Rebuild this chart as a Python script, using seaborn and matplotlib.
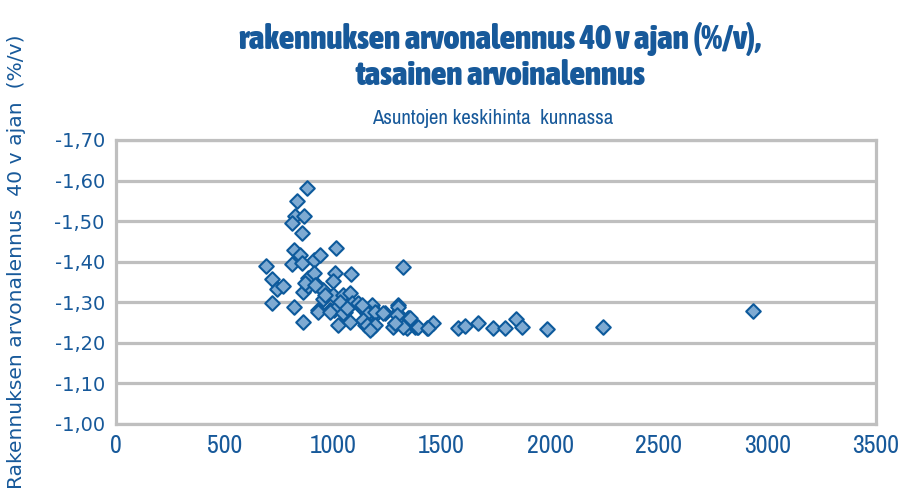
import matplotlib
matplotlib.use('Agg')
import matplotlib.pyplot as plt
import seaborn as sns
import pandas as pd
from matplotlib import font_manager
from matplotlib.ticker import FuncFormatter, MultipleLocator

# asuntojen keskihinta kunnassa (x) ja rakennuksen arvonalennus (y)
hinta = [691, 718, 742, 769, 718, 811, 820, 848, 857, 912, 940, 1013,
         880, 834, 824, 866, 811, 857,
         884, 912, 1009, 1000, 861, 884, 926, 953,
         820, 930, 953, 986, 861, 1023, 1036,
         1322, 1082, 1000, 1046, 1078, 1032, 1087, 1124, 1179, 1299, 1004,
         1055, 1170, 1202, 1239, 1294, 1345, 1078, 1147, 1179, 1276, 1340, 1377,
         1299, 1350, 1285, 1322, 1386, 1432, 1460, 1575, 1608, 1667, 1737,
         1792, 1842, 1870, 1985, 2243, 2934,
         870, 917, 963, 930, 986, 1115, 1046, 1156, 1170, 1138, 1064,
         1133, 1193, 1230, 1294, 1354, 1285, 1391, 1437, 1156, 1193, 1170]
alennus = [-1.390, -1.357, -1.333, -1.340, -1.298, -1.394, -1.429, -1.417, -1.397, -1.404, -1.417, -1.434,
           -1.582, -1.550, -1.513, -1.513, -1.495, -1.470,
           -1.360, -1.372, -1.372, -1.352, -1.325, -1.340, -1.343, -1.330,
           -1.288, -1.281, -1.308, -1.281, -1.251, -1.244, -1.300,
           -1.387, -1.370, -1.318, -1.318, -1.323, -1.301, -1.298, -1.290, -1.293, -1.293, -1.281,
           -1.276, -1.274, -1.274, -1.274, -1.274, -1.261, -1.251, -1.244, -1.237, -1.239, -1.237, -1.240,
           -1.288, -1.261, -1.249, -1.239, -1.239, -1.237, -1.249, -1.237, -1.242, -1.249, -1.237,
           -1.237, -1.259, -1.239, -1.234, -1.239, -1.279,
           -1.347, -1.343, -1.318, -1.276, -1.276, -1.298, -1.274, -1.274, -1.239, -1.256, -1.286,
           -1.293, -1.276, -1.274, -1.269, -1.261, -1.249, -1.239, -1.237, -1.244, -1.244, -1.232]

df = pd.DataFrame({'hinta': hinta, 'alennus': alennus})


def find_narrow(bold):
    # look for any condensed / narrow face that is installed
    best = None
    for f in font_manager.fontManager.ttflist:
        nm = f.name.lower()
        st = str(f.stretch).lower()
        is_narrow = ('narrow' in nm or 'condensed' in nm or 'condensed' in st
                     or (isinstance(f.stretch, int) and f.stretch < 500))
        if not is_narrow or 'mono' in nm or 'serif' in nm and 'sans' not in nm:
            continue
        if f.style != 'normal':
            continue
        w = f.weight if isinstance(f.weight, int) else (700 if 'bold' in str(f.weight) else 400)
        if (w >= 600) != bold:
            continue
        best = f.fname
        if 'dejavu' not in nm:
            break
    return best


nb = find_narrow(True)
nr = find_narrow(False)
if nb:
    title_fp = font_manager.FontProperties(fname=nb)
else:
    title_fp = font_manager.FontProperties(family='Roboto', weight='bold')
if nr:
    small_fp = font_manager.FontProperties(fname=nr)
else:
    small_fp = font_manager.FontProperties(family='Roboto')

sns.set_style('white')
plt.rcParams['font.family'] = ['DejaVu Sans']

blue_text = '#17599a'
grid_c = '#bfbfbf'

fig = plt.figure(figsize=(9.11, 4.98), dpi=100)
ax = fig.add_axes([0.1273, 0.1486, 0.8343, 0.5703])

sns.scatterplot(data=df, x='hinta', y='alennus', marker='D', s=55,
                color='#7eaad2', edgecolor='#0d5a9c', linewidth=1.5,
                ax=ax, zorder=3)

ax.set_xlim(0, 3500)
ax.set_ylim(-1.0, -1.7)
ax.xaxis.set_major_locator(MultipleLocator(500))
ax.yaxis.set_major_locator(MultipleLocator(0.1))
ax.yaxis.set_major_formatter(FuncFormatter(lambda v, p: '{:.2f}'.format(v).replace('.', ',')))
ax.grid(axis='y', color=grid_c, linewidth=2.3)
ax.set_axisbelow(True)
for sp in ax.spines.values():
    sp.set_color(grid_c)
    sp.set_linewidth(2.3)
ax.tick_params(length=0, labelcolor=blue_text)
ax.tick_params(axis='y', labelsize=14, pad=8)
ax.tick_params(axis='x', pad=7)
for lab in ax.get_xticklabels():
    lab.set_fontproperties(small_fp)
    lab.set_fontsize(18.5 if nr else 15)
ax.set_xlabel('')
ax.set_ylabel('')

tfp = title_fp.copy()
tfp.set_size(24 if nb else 18)
fig.text(0.549, 0.886, 'rakennuksen arvonalennus 40 v ajan (%/v),\ntasainen arvoinalennus',
         ha='center', va='center', fontproperties=tfp,
         color=blue_text, linespacing=1.1)
sfp = small_fp.copy()
sfp.set_size(15 if nr else 12)
fig.text(0.541, 0.763, 'Asuntojen keskihinta  kunnassa', ha='center', va='center',
         fontproperties=sfp, color=blue_text)
fig.text(0.018, 0.93, 'Rakennuksen arvonalennus  40 v ajan  (%/v)', rotation=90,
         ha='center', va='top', fontsize=14.6, color=blue_text)

fig.savefig('out.png', dpi=100)
